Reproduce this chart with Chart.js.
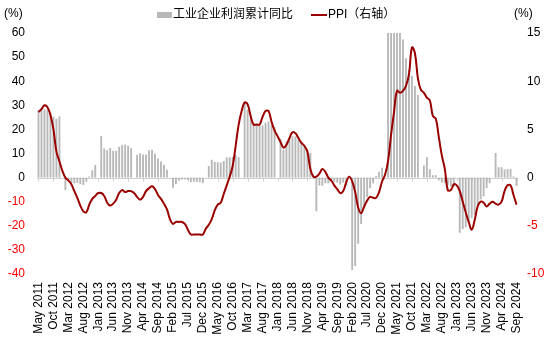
<!DOCTYPE html>
<html>
<head>
<meta charset="utf-8">
<script src="https://cdn.jsdelivr.net/npm/chart.js@4.4.1/dist/chart.umd.min.js"></script>
<style>
  html, body { margin: 0; padding: 0; background: #fff; }
  #wrap { width: 550px; height: 337px; position: relative; }
</style>
</head>
<body>
<div id="wrap"><canvas id="profitChart"></canvas></div>
<script>
// monthly axis: May 2011 .. Sep 2024
const monthNames = ["Jan", "Feb", "Mar", "Apr", "May", "Jun", "Jul", "Aug", "Sep", "Oct", "Nov", "Dec"];
const startYear = 2011, startMonth = 4, monthCount = 161;
const labels = [];
for (let i = 0; i < monthCount; i++) {
  const m = (startMonth + i) % 12;
  const y = startYear + Math.floor((startMonth + i) / 12);
  labels.push(monthNames[m] + " " + y);
}

// 工业企业利润累计同比 (%), January not published
const profitYoY = [
  27.9, 28.7, 28.3, 28.2, 27.0, 25.3, 24.4, 25.4,                  // 2011 May-Dec
  null, -5.2, -1.3, -2.2, -2.4, -2.2, -2.7, -3.1, -1.8, 0.5, 3.0, 5.3,   // 2012
  null, 17.2, 12.1, 11.4, 12.3, 11.1, 11.1, 12.8, 13.5, 13.7, 13.2, 12.2, // 2013
  null, 9.4, 10.1, 9.6, 9.6, 11.4, 11.6, 10.0, 7.9, 6.7, 5.3, 3.3,       // 2014
  null, -4.2, -2.7, -1.3, -0.8, -0.7, -1.0, -1.9, -1.7, -1.9, -1.9, -2.3, // 2015
  null, 4.8, 7.4, 6.5, 6.4, 6.2, 6.9, 8.4, 8.4, 8.6, 9.4, 8.5,           // 2016
  null, 31.5, 28.3, 24.4, 22.7, 22.0, 21.6, 21.6, 22.8, 23.3, 21.9, 21.0, // 2017
  null, 16.1, 11.6, 15.0, 16.5, 17.2, 17.1, 16.2, 14.7, 13.6, 11.8, 10.3, // 2018
  null, -14.0, -3.3, -3.4, -2.3, -2.4, -1.7, -1.7, -2.1, -2.9, -2.1, -3.3, // 2019
  null, -38.3, -36.7, -27.4, -19.3, -12.8, -8.1, -4.4, -2.4, 0.7, 2.4, 4.1, // 2020
  null, 178.9, 137.3, 106.0, 83.4, 66.9, 57.3, 49.5, 44.7, 42.2, 38.0, 34.3, // 2021
  null, 5.0, 8.5, 3.5, 1.0, 1.0, -1.1, -2.1, -2.3, -3.0, -3.6, -4.0,      // 2022
  null, -22.9, -21.4, -20.6, -18.8, -16.8, -15.5, -11.7, -9.0, -7.8, -4.4, -2.3, // 2023
  null, 10.2, 4.3, 4.3, 3.4, 3.5, 3.6, 0.5, -3.5                        // 2024 Jan-Sep
];

// PPI 同比 (%), right axis
const ppiYoY = [
  6.8, 7.1, 7.5, 7.3, 6.5, 5.0, 2.7, 1.7,                              // 2011 May-Dec
  0.7, 0.0, -0.3, -0.7, -1.4, -2.1, -2.9, -3.5, -3.6, -2.8, -2.2, -1.9, // 2012
  -1.6, -1.6, -1.9, -2.6, -2.9, -2.7, -2.3, -1.6, -1.3, -1.5, -1.4, -1.4, // 2013
  -1.6, -2.0, -2.3, -2.0, -1.4, -1.1, -0.9, -1.2, -1.8, -2.2, -2.7, -3.3, // 2014
  -4.3, -4.8, -4.6, -4.6, -4.6, -4.8, -5.4, -5.9, -5.9, -5.9, -5.9, -5.9, // 2015
  -5.3, -4.9, -4.3, -3.4, -2.8, -2.6, -1.7, -0.8, 0.1, 1.2, 3.3, 5.5,   // 2016
  6.9, 7.8, 7.6, 6.4, 5.5, 5.5, 5.5, 6.3, 6.9, 6.9, 5.8, 4.9,           // 2017
  4.3, 3.7, 3.1, 3.4, 4.1, 4.7, 4.6, 4.1, 3.6, 3.3, 2.7, 0.9,           // 2018
  0.1, 0.1, 0.4, 0.9, 0.6, 0.0, -0.3, -0.8, -1.2, -1.6, -1.4, -0.5,     // 2019
  0.1, -0.4, -1.5, -3.1, -3.7, -3.0, -2.4, -2.0, -2.1, -2.1, -1.5, -0.4, // 2020
  0.3, 1.7, 4.4, 6.8, 9.0, 8.8, 9.0, 9.5, 10.7, 13.5, 12.9, 10.3,       // 2021
  9.1, 8.8, 8.3, 8.0, 6.4, 6.1, 4.2, 2.3, 0.9, -1.3, -1.3, -0.7,        // 2022
  -0.8, -1.4, -2.5, -3.6, -4.6, -5.4, -4.4, -3.0, -2.5, -2.6, -3.0, -2.7, // 2023
  -2.5, -2.7, -2.8, -2.5, -1.4, -0.8, -0.8, -1.8, -2.8                  // 2024 Jan-Sep
];

const leftTicks = [-40, -30, -20, -10, 0, 10, 20, 30, 40, 50, 60];
const rightTicks = [-10, -5, 0, 5, 10, 15];

const FONT = "'Liberation Sans', Arial, 'Noto Sans CJK SC', sans-serif";
const BAR_COLOR = "#b8b8b8";
const LINE_COLOR = "#9a0000";
const labelStep = 5;

// legend row, "(%)" unit labels, zero line and the small ticks sitting on it
const axisExtras = {
  id: "axisExtras",
  beforeDatasetsDraw(chart) {
    const ctx = chart.ctx;
    const x = chart.scales.x;
    const zeroY = Math.round(chart.scales.y.getPixelForValue(0)) + 0.5;
    ctx.save();
    ctx.strokeStyle = "#d0d0d0";
    ctx.lineWidth = 1;
    ctx.beginPath();
    ctx.moveTo(chart.chartArea.left, zeroY);
    ctx.lineTo(chart.chartArea.right, zeroY);
    for (let i = 0; i < labels.length; i += labelStep) {
      const px = Math.round(x.getPixelForValue(i)) + 0.5;
      ctx.moveTo(px, zeroY);
      ctx.lineTo(px, zeroY + 3);
    }
    ctx.stroke();
    ctx.restore();
  },
  afterDraw(chart) {
    const ctx = chart.ctx;
    const ds = chart.data.datasets;
    ctx.save();
    ctx.font = "12px " + FONT;
    ctx.fillStyle = "#000";
    ctx.textBaseline = "middle";
    ctx.textAlign = "left";
    ctx.fillText("(%)", 4, 14);
    ctx.fillText("(%)", 514, 14);

    // legend
    ctx.fillStyle = BAR_COLOR;
    ctx.fillRect(157, 12, 15, 6);
    ctx.fillStyle = "#000";
    ctx.fillText(ds[0].label, 173, 15);
    ctx.strokeStyle = LINE_COLOR;
    ctx.lineWidth = 2;
    ctx.beginPath();
    ctx.moveTo(311, 15);
    ctx.lineTo(327, 15);
    ctx.stroke();
    ctx.fillText(ds[1].label, 328, 15);
    ctx.restore();
  }
};

new Chart(document.getElementById("profitChart"), {
  data: {
    labels: labels,
    datasets: [
      {
        type: "bar",
        label: "工业企业利润累计同比",
        data: profitYoY,
        yAxisID: "y",
        backgroundColor: BAR_COLOR,
        borderWidth: 0,
        barPercentage: 0.9,
        categoryPercentage: 0.7,
        clip: 0,
        order: 2,
      },
      {
        type: "line",
        label: "PPI（右轴）",
        data: ppiYoY,
        yAxisID: "y1",
        borderColor: LINE_COLOR,
        borderWidth: 2,
        pointRadius: 0,
        tension: 0.4,
        order: 1,
      },
    ],
  },
  options: {
    responsive: true,
    maintainAspectRatio: false,
    animation: false,
    layout: { padding: { top: 33, left: 6, right: 4, bottom: 2 } },
    plugins: {
      legend: { display: false },
      tooltip: { enabled: false },
    },
    scales: {
      x: {
        grid: { display: false, drawTicks: false },
        border: { display: false },
        afterFit: function (scale) {
          scale.height = 61;
          scale.paddingLeft = 0;
          scale.paddingRight = 0;
        },
        ticks: {
          autoSkip: false,
          maxRotation: 90,
          minRotation: 90,
          padding: 8,
          color: "#000",
          font: { family: FONT, size: 12 },
          callback: function (value, index) {
            return index % labelStep === 0 ? labels[index] : null;
          },
        },
      },
      y: {
        position: "left",
        min: -40,
        max: 60,
        afterBuildTicks: function (axis) {
          axis.ticks = leftTicks.map((v) => ({ value: v }));
        },
        afterFit: function (scale) {
          scale.width = 31;
        },
        grid: { display: false, drawTicks: false },
        border: { display: false },
        ticks: {
          padding: 12,
          font: { family: FONT, size: 12 },
          color: (c) => (c.tick.value < 0 ? "#ff0000" : "#000"),
        },
      },
      y1: {
        position: "right",
        min: -10,
        max: 15,
        afterBuildTicks: function (axis) {
          axis.ticks = rightTicks.map((v) => ({ value: v }));
        },
        afterFit: function (scale) {
          scale.width = 28;
        },
        grid: { display: false, drawTicks: false },
        border: { display: false },
        ticks: {
          padding: 9,
          font: { family: FONT, size: 12 },
          color: (c) => (c.tick.value < 0 ? "#ff0000" : "#000"),
        },
      },
    },
  },
  plugins: [axisExtras],
});
</script>
</body>
</html>
